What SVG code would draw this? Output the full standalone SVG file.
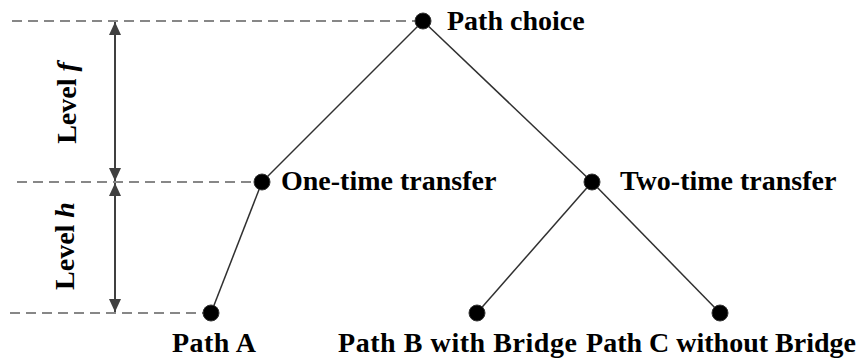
<svg xmlns="http://www.w3.org/2000/svg" width="858" height="359" viewBox="0 0 858 359">
  <defs>
    <marker id="tip" viewBox="0 0 10 10" refX="10" refY="5" markerWidth="13" markerHeight="12" markerUnits="userSpaceOnUse" orient="auto-start-reverse" preserveAspectRatio="none">
      <path d="M0,0 L10,5 L0,10 Z" fill="#404040"/>
    </marker>
    <style>
      .guide { stroke: #606060; stroke-width: 1.3; stroke-dasharray: 10 6; fill: none; }
      .dim { stroke: #404040; stroke-width: 2; fill: none; }
      .edge { stroke: #303030; stroke-width: 1.5; fill: none; }
      .dot { fill: #000; stroke: #333; stroke-width: 1; }
      .lbl { font-family: "Liberation Serif", "Times New Roman", serif; font-weight: bold; font-size: 28px; fill: #000; }
    </style>
  </defs>
  <rect width="858" height="359" fill="#fff"/>

  <!-- level guides -->
  <g id="guides">
    <line class="guide" x1="12" y1="21" x2="418" y2="21"/>
    <line class="guide" x1="17" y1="182" x2="256" y2="182"/>
    <line class="guide" x1="10" y1="313" x2="205" y2="313"/>
    <line class="dim" x1="115" y1="22" x2="115" y2="181" marker-start="url(#tip)" marker-end="url(#tip)"/>
    <line class="dim" x1="115" y1="183" x2="115" y2="312" marker-start="url(#tip)" marker-end="url(#tip)"/>
    <text class="lbl" transform="translate(76,103) rotate(-90)" text-anchor="middle">Level <tspan font-style="italic">f</tspan></text>
    <text class="lbl" transform="translate(74,246) rotate(-90)" text-anchor="middle">Level <tspan font-style="italic">h</tspan></text>
  </g>

  <!-- connectors -->
  <g id="connectors">
    <line class="edge" x1="423" y1="21" x2="262" y2="182"/>
    <line class="edge" x1="423" y1="21" x2="592" y2="182"/>
    <line class="edge" x1="262" y1="182" x2="211" y2="313"/>
    <line class="edge" x1="592" y1="182" x2="477" y2="313"/>
    <line class="edge" x1="592" y1="182" x2="720" y2="313"/>
  </g>

  <g id="path-choice">
    <circle class="dot" cx="423" cy="21" r="8"/>
    <text class="lbl" x="447" y="30">Path choice</text>
  </g>
  <g id="one-time-transfer">
    <circle class="dot" cx="262" cy="182" r="8"/>
    <text class="lbl" x="281" y="190">One-time transfer</text>
  </g>
  <g id="two-time-transfer">
    <circle class="dot" cx="592" cy="182" r="8"/>
    <text class="lbl" x="620" y="190">Two-time transfer</text>
  </g>
  <g id="path-a">
    <circle class="dot" cx="211" cy="313" r="8"/>
    <text class="lbl" x="172" y="352" textLength="84" lengthAdjust="spacing">Path A</text>
  </g>
  <g id="path-b">
    <circle class="dot" cx="477" cy="313" r="8"/>
    <text class="lbl" x="338" y="352" textLength="239" lengthAdjust="spacing">Path B with Bridge</text>
  </g>
  <g id="path-c">
    <circle class="dot" cx="720" cy="313" r="8"/>
    <text class="lbl" x="721" y="352" text-anchor="middle">Path C without Bridge</text>
  </g>
</svg>
